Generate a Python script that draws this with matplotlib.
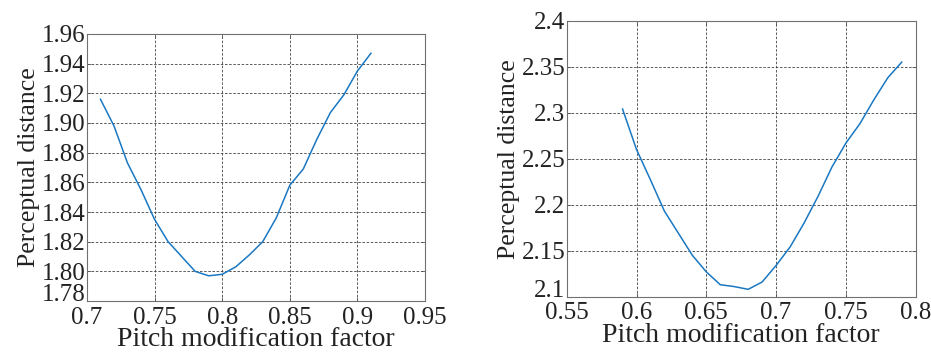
import matplotlib
matplotlib.use('Agg')
import matplotlib.pyplot as plt

# left panel
x_left = [0.71, 0.72, 0.73, 0.74, 0.75, 0.76, 0.77, 0.78, 0.79, 0.80, 0.81,
          0.82, 0.83, 0.84, 0.85, 0.86, 0.87, 0.88, 0.89, 0.90, 0.91]
y_left = [1.916, 1.898, 1.873, 1.855, 1.835, 1.820, 1.810, 1.800, 1.797, 1.798, 1.803,
          1.811, 1.820, 1.836, 1.858, 1.869, 1.889, 1.907, 1.919, 1.935, 1.947]
xticks_left = [0.7, 0.75, 0.8, 0.85, 0.9, 0.95]
xlabels_left = ['0.7', '0.75', '0.8', '0.85', '0.9', '0.95']
yticks_left = [1.78, 1.80, 1.82, 1.84, 1.86, 1.88, 1.90, 1.92, 1.94, 1.96]
ylabels_left = ['1.78', '1.80', '1.82', '1.84', '1.86', '1.88', '1.90', '1.92', '1.94', '1.96']

# right panel
x_right = [0.59, 0.60, 0.61, 0.62, 0.63, 0.64, 0.65, 0.66, 0.67, 0.68, 0.69,
           0.70, 0.71, 0.72, 0.73, 0.74, 0.75, 0.76, 0.77, 0.78, 0.79]
y_right = [2.304, 2.260, 2.227, 2.193, 2.169, 2.145, 2.127, 2.113, 2.111, 2.108, 2.116,
           2.134, 2.154, 2.180, 2.209, 2.241, 2.267, 2.288, 2.314, 2.338, 2.355]
xticks_right = [0.55, 0.6, 0.65, 0.7, 0.75, 0.8]
xlabels_right = ['0.55', '0.6', '0.65', '0.7', '0.75', '0.8']
yticks_right = [2.1, 2.15, 2.2, 2.25, 2.3, 2.35, 2.4]
ylabels_right = ['2.1', '2.15', '2.2', '2.25', '2.3', '2.35', '2.4']

plt.rcParams['font.family'] = ['Liberation Serif', 'DejaVu Serif']

fig = plt.figure(figsize=(9.31, 3.53), dpi=100)
ax1 = fig.add_axes([0.0934, 0.1473, 0.3631, 0.7564])
ax2 = fig.add_axes([0.6087, 0.1595, 0.3749, 0.7819])

panels = [
    (ax1, x_left, y_left, xticks_left, xlabels_left, yticks_left, ylabels_left),
    (ax2, x_right, y_right, xticks_right, xlabels_right, yticks_right, ylabels_right),
]

for ax, xs, ys, xt, xl, yt, yl in panels:
    ax.plot(xs, ys, color='#1a78c2', linewidth=1.1)
    ax.set_xlim(xt[0], xt[-1])
    ax.set_ylim(yt[0], yt[-1])
    ax.set_xticks(xt)
    ax.set_xticklabels(xl)
    ax.set_yticks(yt)
    ax.set_yticklabels(yl)
    ax.grid(True, linestyle=(0, (3, 2)), color='#404040', linewidth=0.6)
    ax.tick_params(direction='in', length=3, width=0.6, color='#555555',
                   labelsize=18, top=True, right=True, labelcolor='#222222')
    ax.tick_params(axis='x', pad=4)
    ax.tick_params(axis='y', pad=1)
    # bottom y label sits a little higher, as in the reference
    ax.get_yticklabels()[0].set_va('baseline')
    for s in ax.spines.values():
        s.set_color('#707070')
        s.set_linewidth(0.8)
    ax.set_xlabel('Pitch modification factor', fontsize=20, color='#222222', labelpad=-1)
    ax.set_ylabel('Perceptual distance', fontsize=18.5, color='#222222', labelpad=1)

fig.savefig('out.png', dpi=100)
